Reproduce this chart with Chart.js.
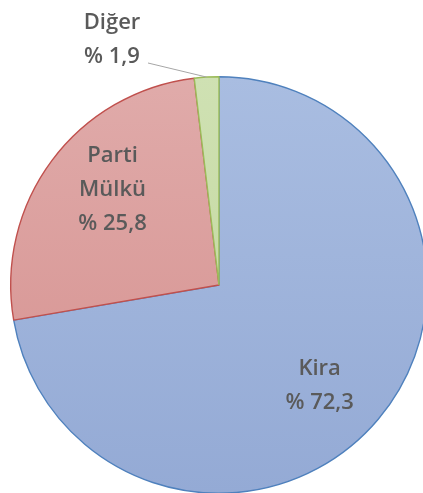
<!DOCTYPE html>
<html>
<head>
<meta charset="utf-8">
<script src="https://cdn.jsdelivr.net/npm/chart.js@4.4.1/dist/chart.umd.min.js"></script>
<style>
  html, body { margin: 0; padding: 0; background: #fff; overflow: hidden; width: 423px; height: 493px; }
  #kutu { position: absolute; left: 0; top: 0; width: 440px; height: 500px; }
</style>
</head>
<body>
<div id="kutu"><canvas id="grafikMulk"></canvas></div>
<script>
// veriler
const kategoriler = ["Kira", "Parti Mülkü", "Diğer"];
const yuzdeler = [72.3, 25.8, 1.9];
const etiketSatirlari = [["Kira", "% 72,3"], ["Parti", "Mülkü", "% 25,8"], ["Diğer", "% 1,9"]];

// renkler (üst -> alt degrade)
const renkUst = ["#a9bde1", "#e0abaa", "#cfe1b3"];
const renkAlt = ["#94aad5", "#d58f8d", "#c0d598"];
const kenarRenk = ["#4f81bd", "#c0504d", "#9bbb59"];

function degrade(ctx) {
  const chart = ctx.chart;
  const alan = chart.chartArea;
  if (!alan) return renkUst[ctx.dataIndex];
  const g = chart.ctx.createLinearGradient(0, alan.top, 0, alan.bottom);
  g.addColorStop(0, renkUst[ctx.dataIndex]);
  g.addColorStop(1, renkAlt[ctx.dataIndex]);
  return g;
}

// dilim etiketlerini çizen eklenti
const etiketEklentisi = {
  id: "etiketler",
  afterDatasetsDraw(chart) {
    const c = chart.ctx;
    const yaylar = chart.getDatasetMeta(0).data;
    c.save();
    c.font = "600 22px 'Open Sans'";
    c.fillStyle = "#5a5a5a";
    c.textAlign = "center";
    c.textBaseline = "middle";
    const satirAraligi = 34;
    yaylar.forEach((yay, i) => {
      const p = yay.getProps(["x", "y", "startAngle", "endAngle", "outerRadius"], true);
      const orta = (p.startAngle + p.endAngle) / 2;
      let x, y;
      if (i === 2) {
        // küçük dilim: dışarıda, çizgiyle
        x = p.x - 107;
        y = p.y - 245;
        c.strokeStyle = "#a6a6a6";
        c.lineWidth = 1;
        c.beginPath();
        c.moveTo(p.x - 71, p.y - 222);
        c.lineTo(p.x + Math.cos(orta) * p.outerRadius, p.y + Math.sin(orta) * p.outerRadius);
        c.stroke();
      } else {
        const r = p.outerRadius * 0.685;
        const a = orta + 5 * Math.PI / 180;
        x = p.x + Math.cos(a) * r;
        y = p.y + Math.sin(a) * r;
      }
      const satirlar = etiketSatirlari[i];
      const bas = y - (satirlar.length - 1) * satirAraligi / 2;
      satirlar.forEach((s, k) => c.fillText(s, x, bas + k * satirAraligi));
    });
    c.restore();
  }
};

const grafikMulk = new Chart(document.getElementById("grafikMulk"), {
  type: "pie",
  data: {
    labels: kategoriler,
    datasets: [{
      data: yuzdeler,
      backgroundColor: degrade,
      borderColor: kenarRenk,
      borderWidth: 1.4
    }]
  },
  options: {
    responsive: true,
    maintainAspectRatio: false,
    animation: false,
    layout: { padding: { left: 10, right: 12, top: 76, bottom: 6 } },
    plugins: {
      legend: { display: false },
      tooltip: { enabled: false }
    }
  },
  plugins: [etiketEklentisi]
});
</script>
</body>
</html>
